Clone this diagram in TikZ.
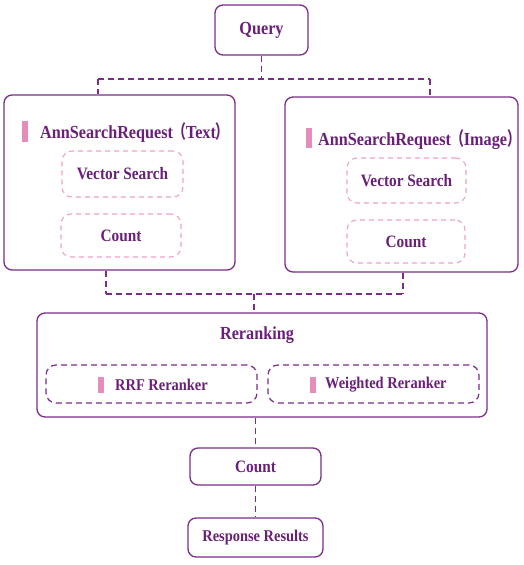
\documentclass[tikz,border=0pt]{standalone}
\usepackage{fontspec}
\setmainfont[FakeStretch=0.88]{Liberation Serif}
\newfontfamily\cjk[FakeStretch=0.7]{Noto Sans CJK SC}
\usetikzlibrary{positioning}

\definecolor{plum}{HTML}{7A2C8A}
\definecolor{plumtext}{HTML}{6A2078}
\definecolor{rose}{HTML}{EFA2C9}
\definecolor{rosebar}{HTML}{E58CBA}

\begin{document}
\begin{tikzpicture}[
  x=1pt,y=-1pt,
  every node/.style={font=\bfseries\fontsize{17.4}{20}\selectfont,text=plumtext},
  box/.style={draw=plum,line width=1.3pt,rounded corners=8pt,inner sep=0pt},
  subbox/.style={draw=rose,line width=1.1pt,dash pattern=on 5pt off 4pt,rounded corners=10pt,inner sep=0pt},
  rankbox/.style={draw=plum,line width=1.2pt,dash pattern=on 6pt off 4pt,rounded corners=10pt,inner sep=0pt},
  bar/.style={fill=rosebar,minimum width=6pt,inner sep=0pt},
  title/.style={font=\bfseries\fontsize{18.4}{21}\selectfont},
  small/.style={font=\bfseries\fontsize{16.4}{19}\selectfont},
  link/.style={draw=plum,line width=1.2pt,dash pattern=on 6pt off 4pt}
]
  \useasboundingbox (0,0) rectangle (524,565);

  % top
  \node[box,title,minimum width=93pt,minimum height=50pt] (query) at (261.5,30) {Query};

  % the two requests
  \node[box,minimum width=231pt,minimum height=175pt] (textbox) at (119.5,182.5) {};
  \node[box,minimum width=233pt,minimum height=175pt] (imgbox) at (401.5,184.5) {};

  \node[bar,minimum height=21pt] (tbar) at (25,131) {};
  \node[title,anchor=west,inner sep=0pt] (ttitle) at (40,133) {AnnSearchRequest{\cjk （}Text{\cjk ）}};
  \node[subbox,minimum width=121pt,minimum height=46pt] (tvec) at (122.5,174) {Vector Search};
  \node[subbox,minimum width=120pt,minimum height=43pt] (tcount) at (121,235.5) {Count};

  \node[bar,minimum height=20pt] (ibar) at (309,138) {};
  \node[title,anchor=west,inner sep=0pt] (ititle) at (318,140) {AnnSearchRequest{\cjk （}Image{\cjk ）}};
  \node[subbox,minimum width=119pt,minimum height=45pt] (ivec) at (406.5,180.5) {Vector Search};
  \node[subbox,minimum width=118pt,minimum height=43pt] (icount) at (406,241.5) {Count};

  % reranking
  \node[box,minimum width=450pt,minimum height=104pt] (rerank) at (262,365) {};
  \node[title] (rtitle) at (257,335) {Reranking};
  \node[rankbox,minimum width=211pt,minimum height=38pt] (rrf) at (151.5,384) {};
  \node[rankbox,minimum width=211pt,minimum height=38pt] (wtd) at (373.5,384) {};
  \node[bar,minimum height=16pt] (rbar) at (100.5,385) {};
  \node[small,anchor=west,inner sep=0pt] (rlabel) at (115,385) {RRF Reranker};
  \node[bar,minimum height=16pt] (wbar) at (313,385) {};
  \node[small,anchor=west,inner sep=0pt] (wlabel) at (325,385) {Weighted Reranker};

  % bottom
  \node[box,minimum width=131pt,minimum height=37pt] (count) at (255.5,466.5) {Count};
  \node[box,small,minimum width=135pt,minimum height=39pt] (resp) at (255.5,537.5) {Response Results};

  % connectors
  \coordinate (qsplit) at (261.5,79);
  \coordinate (qL) at (98,79);
  \coordinate (qR) at (430,79);
  \draw[link] (query.south) -- (qsplit);
  \draw[link] (qL) -- (qR);
  \draw[link] (qL) -- (qL |- textbox.north);
  \draw[link] (qR) -- (qR |- imgbox.north);

  \coordinate (mL) at (106,294);
  \coordinate (mR) at (403,294);
  \coordinate (mjoin) at (254,294);
  \draw[link] (mL |- textbox.south) -- (mL);
  \draw[link] (mR |- imgbox.south) -- (mR);
  \draw[link] (mL) -- (mR);
  \draw[link] (mjoin) -- (mjoin |- rerank.north);

  \draw[link] (count.north |- rerank.south) -- (count.north);
  \draw[link] (count.south) -- (resp.north);
\end{tikzpicture}
\end{document}
